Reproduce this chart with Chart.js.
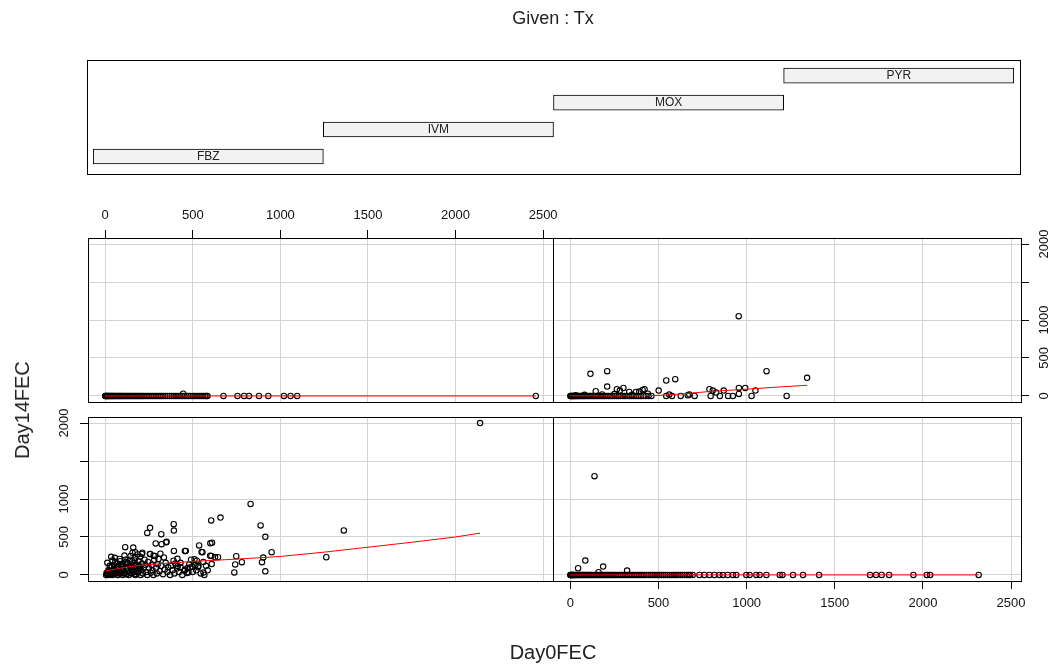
<!DOCTYPE html>
<html><head><meta charset="utf-8">
<script src="https://cdn.jsdelivr.net/npm/chart.js@4.4.0/dist/chart.umd.min.js"></script>
<style>
html,body{margin:0;padding:0;background:#fff;}
#wrap{position:relative;width:1054px;height:666px;overflow:hidden;font-family:"Liberation Sans",Arial,sans-serif;}
canvas{position:absolute;left:0;top:0;}
.t{position:absolute;color:#222;white-space:nowrap;line-height:1;transform:translate(-50%,-50%);}
</style></head><body>
<div id="wrap">
<canvas id="cGiven" width="1054" height="666"></canvas>
<canvas id="cMOX" width="1054" height="666"></canvas>
<canvas id="cPYR" width="1054" height="666"></canvas>
<canvas id="cFBZ" width="1054" height="666"></canvas>
<canvas id="cIVM" width="1054" height="666"></canvas>
<div class="t" style="left:553px;top:18px;font-size:18px;">Given : Tx</div>
<div class="t" style="left:553px;top:652px;font-size:20px;">Day0FEC</div>
<div class="t" style="left:22px;top:410px;font-size:20px;transform:translate(-50%,-50%) rotate(-90deg);">Day14FEC</div>
</div>
<script>
// ---------- data ----------
const txLevels = ['FBZ','IVM','MOX','PYR'];
const givenStart = [0.5,1.5,2.5,3.5];
const givenEnd = [1.5,2.5,3.5,4.5];
const xTicks = [0,500,1000,1500,2000,2500];
const xTickLabels = ['0','500','1000','1500','2000','2500'];
const yTicks = [0,500,1000,1500,2000];
const yTickLabels = ['0','500','1000','','2000'];

const fbzDay0 = [
 2140,830,658,605,887,914,1362,1262,950,895,
 902,914,737,742,748,780,644,606,600,610,
 555,550,536,566,530,510,496,455,460,412,
 392,391,350,322,320,256,240,288,392,283,
 304,410,430,455,466,276,390,414,452,523,
 532,561,485,475,608,627,599,348,114,209,
 257,212,156,34,171,
 5,10,15,20,25,30,35,40,45,50,
 52,55,60,65,70,72,75,80,85,90,
 95,100,102,105,110,112,115,120,122,125,
 130,132,135,140,145,150,152,155,160,162,
 165,170,172,175,180,185,187,190,195,200,
 202,205,210,215,220,225,230,235,240,245,
 250,255,260,265,270,275,280,290,295,300,
 310,315,320,330,335,340,345,355,360,370,
 375,385,395,400,420,430,440,470,480,490,
 500,515,520,545,560,575,585,
 8,18,28,38,48,58,68,78,88,98,
 108,118,128,138,148,158,168,178,188,198,
 12,26,42,57,83,97,117,143,167,193];
const fbzDay14 = [
 2000,935,755,718,652,502,586,233,299,168,
 228,48,33,138,246,168,234,250,416,424,
 300,303,388,0,100,206,110,316,316,212,
 584,668,436,405,537,620,553,415,316,250,
 210,84,160,70,27,254,188,116,54,188,
 116,31,98,31,143,232,254,429,366,277,
 277,292,292,239,299,
 0,12,0,40,5,95,20,0,60,130,
 10,225,80,30,150,0,110,50,180,20,
 100,0,140,60,255,30,200,90,10,160,
 150,50,0,120,250,70,20,180,360,100,
 40,220,0,140,80,270,30,180,110,240,
 0,60,150,20,90,200,130,40,0,170,
 90,275,30,130,60,0,200,90,20,140,
 50,280,120,10,230,70,160,40,100,0,
 120,60,20,150,40,100,0,90,140,200,
 40,130,60,20,170,120,60,
 30,60,15,110,80,40,100,20,130,70,
 20,150,90,30,110,60,10,120,50,80,
 160,120,190,170,210,140,170,200,190,120];
const fbzSmoothX = [0,100,200,330,500,750,1000,1250,1500,1750,2000,2140];
const fbzSmoothY = [50,95,125,150,178,208,243,300,365,430,500,550];

const ivmDay0 = [
 137,85,44,186,322,160,
 0,2,4,6,9,12,15,18,22,26,
 30,35,40,45,50,56,62,68,74,80,
 87,94,101,108,115,122,130,138,146,154,
 162,170,178,186,194,202,210,218,226,234,
 242,250,260,270,280,290,300,310,320,330,
 340,350,360,370,380,390,400,410,420,432,
 444,456,468,480,492,504,516,528,540,552,
 564,576,588,600,612,624,636,648,660,672,
 680,694,
 732,760,789,817,846,865,893,922,941,998,
 1017,1055,1074,1112,1188,1203,1263,1320,1411,1700,
 1734,1766,1808,1946,2022,2041,2316];
const ivmDay14 = [
 1300,189,88,110,57,35,
 0,0,0,0,0,0,0,0,0,0,
 0,0,0,0,0,0,0,0,0,0,
 0,0,0,0,0,0,0,0,0,0,
 0,0,0,0,0,0,0,0,0,0,
 0,0,0,0,0,0,0,0,0,0,
 0,0,0,0,0,0,0,0,0,0,
 0,0,0,0,0,0,0,0,0,0,
 0,0,0,0,0,0,0,0,0,0,
 0,0,
 0,0,0,0,0,0,0,0,0,0,
 0,0,0,0,0,0,0,0,0,0,
 0,0,0,0,0,0,0];
const ivmSmoothX = [0,2316];
const ivmSmoothY = [0,0];

const moxDay0 = [
 0,2,4,8,12,16,20,25,30,35,
 40,45,50,56,62,68,74,80,86,92,
 98,105,112,119,126,133,140,148,156,164,
 172,180,188,196,204,212,220,230,240,250,
 260,270,280,290,300,310,320,330,342,355,
 368,380,392,404,416,428,440,452,464,476,
 488,500,512,524,536,548,560,570,578,584,
 675,755,793,821,878,931,1020,1058,1096,2458,
 445];
const moxDay14 = [
 0,0,0,0,0,0,0,0,0,0,
 0,0,0,0,0,0,0,0,0,0,
 0,0,0,0,0,0,0,0,0,0,
 0,0,0,0,0,0,0,0,0,0,
 0,0,0,0,0,0,0,0,0,0,
 0,0,0,0,0,0,0,0,0,0,
 0,0,0,0,0,0,0,0,0,0,
 0,0,0,0,0,0,0,0,0,0,
 30];
const moxSmoothX = [0,2458];
const moxSmoothY = [0,0];

const pyrDay0 = [
 955,114,209,209,1113,1343,544,595,501,144,
 264,301,421,789,870,956,992,1050,956,1227,
 1028,544,577,626,666,705,796,848,895,922,
 561,675,827,808,281,334,372,410,391,
 0,3,6,10,14,18,22,27,32,38,
 44,50,57,64,71,78,86,94,102,110,
 119,128,137,146,155,165,175,185,195,205,
 216,227,238,250,262,274,286,298,310,322,
 335,348,361,374,387,400,414,428,444,460,
 30,80,180,250,350,440];
const pyrDay14 = [
 1050,291,326,123,326,238,203,220,70,62,
 88,106,88,88,70,106,106,70,26,0,
 0,0,0,0,9,0,0,0,0,0,
 18,18,44,70,70,53,53,79,57,
 0,0,0,0,0,0,0,0,0,0,
 0,0,0,0,0,0,0,0,0,0,
 0,0,0,0,0,0,0,0,0,0,
 0,0,0,0,0,0,0,0,0,0,
 0,0,0,0,0,0,0,0,0,0,
 10,15,20,25,15,30];
const pyrSmoothX = [0,150,300,450,550,650,800,1000,1150,1343];
const pyrSmoothY = [2,0,0,3,12,30,60,88,113,140];

// ---------- layout / style ----------
const W = 1054, H = 666;
const X_MIN = -98.3, X_MAX = 2556.3, Y_MIN = -80, Y_MAX = 2080;
const AX = 30;
const GRID = '#d3d3d3';
const FONT = {family:'"Liberation Sans", Arial, sans-serif', size:13};

function axisFit(size){
  return s => {
    if (s.isHorizontal()) s.height = size; else s.width = size;
    s.paddingLeft = 0; s.paddingRight = 0; s.paddingTop = 0; s.paddingBottom = 0;
  };
}
function xScale(position, show){
  return {type:'linear', position, min:X_MIN, max:X_MAX, offset:false,
    afterBuildTicks: s => { s.ticks = xTicks.map(v => ({value:v})); },
    afterFit: axisFit(show ? AX : 0),
    grid:{color:GRID, lineWidth:1, drawTicks:show, tickLength:8, tickColor:'#000', tickWidth:1},
    border:{display:false},
    ticks:{display:show, autoSkip:false, minRotation:0, maxRotation:0, padding:7, color:'#111', font:FONT,
      callback:(v,i) => xTickLabels[i]}
  };
}
function yScale(position, show){
  return {type:'linear', position, min:Y_MIN, max:Y_MAX, offset:false,
    afterBuildTicks: s => { s.ticks = yTicks.map(v => ({value:v})); },
    afterFit: axisFit(show ? AX : 0),
    grid:{color:GRID, lineWidth:1, drawTicks:show, tickLength:8, tickColor:'#000', tickWidth:1},
    border:{display:false},
    ticks:{display:show, autoSkip:false, minRotation:90, maxRotation:90, crossAlign:'center', padding:1, color:'#111', font:FONT,
      callback:(v,i) => yTickLabels[i]}
  };
}
const boxPlugin = {id:'box', afterDraw(chart){
  const {ctx, chartArea:a} = chart;
  ctx.save();
  ctx.strokeStyle = '#000'; ctx.lineWidth = 1;
  const l = Math.round(a.left), t = Math.round(a.top), r = Math.round(a.right), b = Math.round(a.bottom);
  ctx.strokeRect(l + 0.5, t + 0.5, r - l, b - t);
  ctx.restore();
}};

function panel(id, rect, xPos, xShow, yPos, yShow, xs, ys, sx, sy){
  const pad = {
    left: rect.l - (yPos === 'left' && yShow ? AX : 0),
    right: W - rect.r - (yPos === 'right' && yShow ? AX : 0),
    top: rect.t - (xPos === 'top' && xShow ? AX : 0),
    bottom: H - rect.b - (xPos === 'bottom' && xShow ? AX : 0)
  };
  new Chart(document.getElementById(id), {
    type:'scatter',
    data:{datasets:[
      {type:'line', data:sx.map((x,i) => ({x, y:sy[i]})), borderColor:'#ff0000', borderWidth:1,
        pointRadius:0, tension:0, fill:false},
      {type:'scatter', data:xs.map((x,i) => ({x, y:ys[i]})), pointStyle:'circle', pointRadius:2.7,
        borderColor:'#000', backgroundColor:'rgba(0,0,0,0)', borderWidth:1.1}
    ]},
    options:{responsive:false, animation:false, devicePixelRatio:1, events:[],
      layout:{padding:pad},
      plugins:{legend:{display:false}, tooltip:{enabled:false}, title:{display:false}},
      scales:{x:xScale(xPos, xShow), y:yScale(yPos, yShow)}},
    plugins:[boxPlugin]
  });
}

panel('cMOX', {l:88, r:553, t:238, b:402}, 'top', true, 'left', false, moxDay0, moxDay14, moxSmoothX, moxSmoothY);
panel('cPYR', {l:553, r:1021, t:238, b:402}, 'top', false, 'right', true, pyrDay0, pyrDay14, pyrSmoothX, pyrSmoothY);
panel('cFBZ', {l:88, r:553, t:417, b:581}, 'bottom', false, 'left', true, fbzDay0, fbzDay14, fbzSmoothX, fbzSmoothY);
panel('cIVM', {l:553, r:1021, t:417, b:581}, 'bottom', true, 'right', false, ivmDay0, ivmDay14, ivmSmoothX, ivmSmoothY);

// ---------- given (conditioning) panel ----------
const labelPlugin = {id:'barLabels', afterDatasetsDraw(chart){
  const {ctx} = chart;
  const xs = chart.scales.x, ys = chart.scales.y;
  ctx.save();
  ctx.fillStyle = '#222';
  ctx.font = '12px "Liberation Sans", Arial, sans-serif';
  ctx.textAlign = 'center'; ctx.textBaseline = 'middle';
  txLevels.forEach((t,i) => {
    ctx.fillText(t, xs.getPixelForValue((givenStart[i] + givenEnd[i]) / 2), ys.getPixelForValue(i + 1) + 0.5);
  });
  ctx.restore();
}};
new Chart(document.getElementById('cGiven'), {
  type:'bar',
  data:{datasets:[{
    data: txLevels.map((t,i) => ({x:[givenStart[i], givenEnd[i]], y:i + 1})),
    backgroundColor:'#f2f2f2', borderColor:'#000', borderWidth:1, borderSkipped:false, barThickness:15
  }]},
  options:{indexAxis:'y', responsive:false, animation:false, devicePixelRatio:1, events:[],
    layout:{padding:{left:87, right:W - 1020, top:60, bottom:H - 174}},
    plugins:{legend:{display:false}, tooltip:{enabled:false}},
    scales:{
      x:{type:'linear', display:false, min:0.473, max:4.527, offset:false},
      y:{type:'linear', display:false, min:0.35, max:4.58, offset:false}
    }},
  plugins:[boxPlugin, labelPlugin]
});
</script>
</body></html>
